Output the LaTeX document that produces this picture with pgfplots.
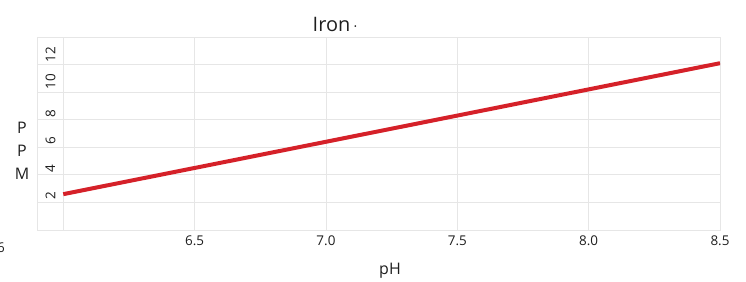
\documentclass[border=0pt]{standalone}
\usepackage{pgfplots}
\pgfplotsset{compat=1.18}
\usepackage{fontspec}
\setmainfont{Open Sans}
\definecolor{gridc}{HTML}{E6E6E6}
\definecolor{linec}{HTML}{D52129}
\definecolor{txt}{HTML}{1E1E1E}
\begin{document}
\begin{tikzpicture}[x=1bp,y=1bp]
\useasboundingbox (0,0) rectangle (746,281);
\begin{axis}[
  at={(37bp,51bp)}, anchor=south west,
  scale only axis, width=683bp, height=193bp,
  xmin=5.9, xmax=8.5, ymin=0, ymax=14,
  xtick={6.0,6.5,7.0,7.5,8.0,8.5},
  xticklabels={,6.5,7.0,7.5,8.0,8.5},
  ytick={2,4,6,8,10,12},
  major tick length=0pt,
  grid=major,
  grid style={gridc, line width=0.8bp},
  axis line style={gridc, line width=0.8bp},
  tick label style={font=\fontsize{13.5}{16}\selectfont, text=txt},
  /pgf/number format/assume math mode=true,
  xticklabel style={yshift=-2bp},
  yticklabel style={rotate=90, anchor=north west, yshift=-5bp, xshift=-1bp},
]
\addplot[linec, line width=4bp] coordinates {(6.0,2.6) (8.5,12.1)};
\end{axis}
\node[text=txt, font=\fontsize{20}{24}\selectfont, anchor=base] at (335,250) {Iron\,\fontsize{14}{16}\selectfont·};
\node[text=txt, font=\fontsize{16}{23}\selectfont, align=center] at (22,130) {P\\P\\M};
\node[text=txt, font=\fontsize{16}{19}\selectfont, anchor=base] at (390,7) {pH};
\node[text=txt, font=\fontsize{13.5}{15}\selectfont, anchor=base] at (1,29) {6};
\end{tikzpicture}
\end{document}
